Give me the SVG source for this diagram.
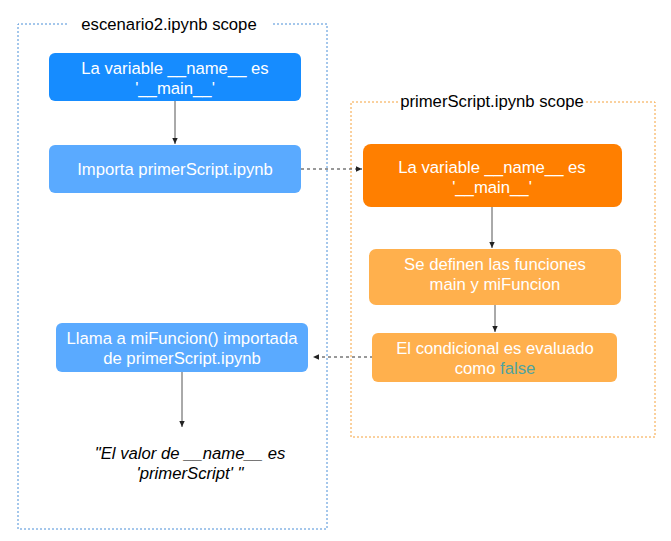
<svg xmlns="http://www.w3.org/2000/svg" width="671" height="541" viewBox="0 0 671 541">
<defs>
<style>
text{font-family:"Liberation Sans",Arial,sans-serif;font-size:16.7px;text-anchor:middle}
.w{fill:#ffffff}
.k{fill:#000000}
.cont-b{fill:none;stroke:#4a8fd8;stroke-width:1;stroke-dasharray:2 2}
.cont-o{fill:none;stroke:#f5a23c;stroke-width:1;stroke-dasharray:2 2}
.edge{fill:none;stroke:#555;stroke-width:1}
.dash{fill:none;stroke:#333;stroke-width:1;stroke-dasharray:3 3}
</style>
<marker id="ah" viewBox="0 0 10 10" refX="9" refY="5" markerWidth="7" markerHeight="7" orient="auto" markerUnits="userSpaceOnUse">
<path d="M0,1 L9,5 L0,9 Z" fill="#222"/>
</marker>
</defs>
<rect width="671" height="541" fill="#ffffff"/>

<g id="scope-escenario2">
<path class="cont-b" d="M67,24 H18 V529 H327 V24 H271"/>
<text class="k" x="169" y="30">escenario2.ipynb scope</text>
</g>

<g id="scope-primerScript">
<path class="cont-o" d="M398,102 H351 V437 H655 V102 H585"/>
<text class="k" x="492" y="107">primerScript.ipynb scope</text>
</g>

<g id="connectors">
<line class="edge" x1="175" y1="101" x2="175" y2="144" marker-end="url(#ah)"/>
<line class="dash" x1="301" y1="169" x2="362" y2="169" marker-end="url(#ah)"/>
<line class="edge" x1="492" y1="207" x2="492" y2="248" marker-end="url(#ah)"/>
<line class="edge" x1="495" y1="305" x2="495" y2="332" marker-end="url(#ah)"/>
<line class="dash" x1="379" y1="357" x2="313" y2="357" marker-end="url(#ah)"/>
<line class="edge" x1="182" y1="372" x2="182" y2="427" marker-end="url(#ah)"/>
</g>

<g id="n-blue1">
<rect x="49" y="53" width="252" height="48" rx="6" fill="#168CFF"/>
<text class="w" x="175" y="74">La variable __name__ es</text>
<text class="w" x="175" y="94">'__main__'</text>
</g>

<g id="n-blue2">
<rect x="49" y="145" width="252" height="48" rx="6" fill="#5AAAFF"/>
<text class="w" x="175" y="175">Importa primerScript.ipynb</text>
</g>

<g id="n-blue3">
<rect x="56" y="323" width="252" height="49" rx="6" fill="#5AAAFF"/>
<text class="w" x="182" y="344">Llama a miFuncion() importada</text>
<text class="w" x="182" y="364">de primerScript.ipynb</text>
</g>

<g id="n-result">
<text class="k" x="190" y="459" font-style="italic">"El valor de __name__ es</text>
<text class="k" x="190" y="479" font-style="italic">'primerScript' "</text>
</g>

<g id="n-orange1">
<rect x="363" y="144" width="259" height="63" rx="8" fill="#FF7F00"/>
<text class="w" x="492" y="173">La variable __name__ es</text>
<text class="w" x="492" y="193">'__main__'</text>
</g>

<g id="n-orange2">
<rect x="369" y="249" width="252" height="56" rx="7" fill="#FFB04D"/>
<text class="w" x="495" y="270">Se definen las funciones</text>
<text class="w" x="495" y="290">main y miFuncion</text>
</g>

<g id="n-orange3">
<rect x="372" y="333" width="245" height="49" rx="6" fill="#FFB04D"/>
<text class="w" x="495" y="354">El condicional es evaluado</text>
<text class="w" x="495" y="374">como <tspan fill="#4FA3A0">false</tspan></text>
</g>
</svg>
